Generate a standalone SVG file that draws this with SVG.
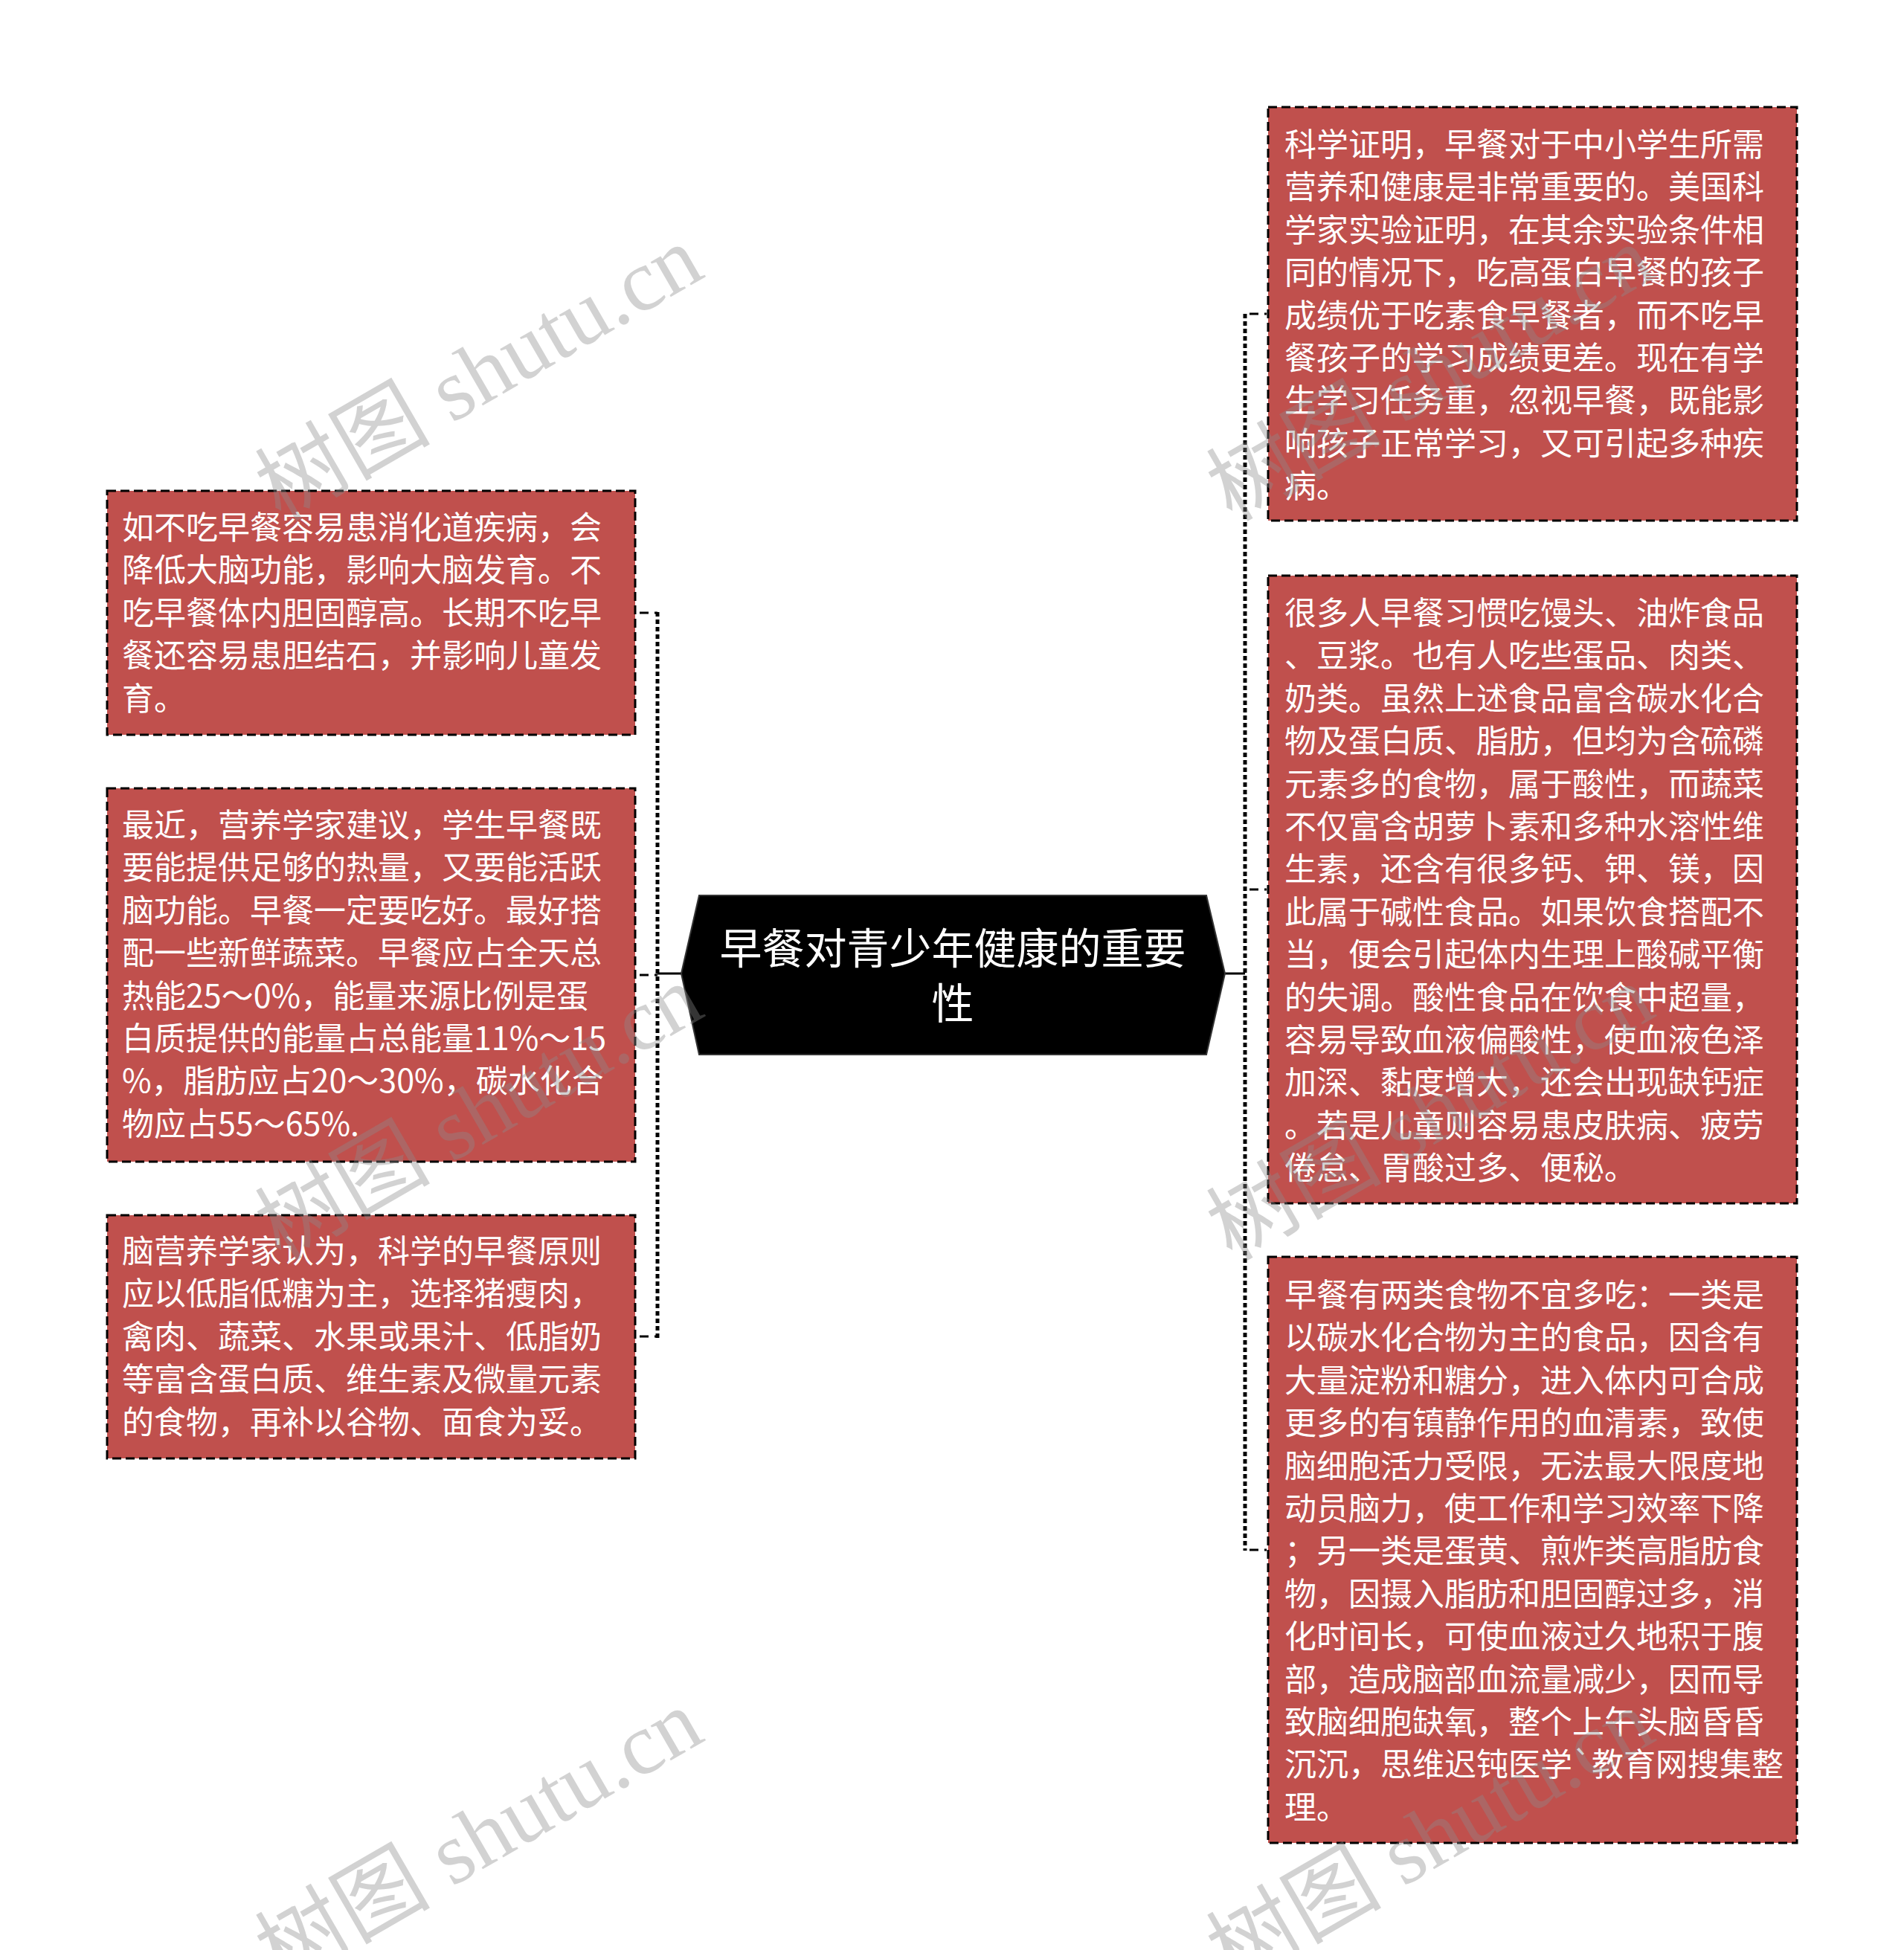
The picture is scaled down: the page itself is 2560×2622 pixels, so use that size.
<svg xmlns="http://www.w3.org/2000/svg" width="2560" height="2622" viewBox="0 0 2560 2622">
<defs>
<style>
.box{fill:#c0504d;stroke:#000;stroke-width:3;stroke-dasharray:12,6;}
.t{font-family:"Noto Sans CJK SC","Microsoft YaHei",sans-serif;font-size:43px;fill:#fff;}
.title{font-family:"Noto Sans CJK SC",sans-serif;font-size:57px;fill:#fff;text-anchor:middle;}
.dot{stroke:#000;stroke-width:5;stroke-dasharray:6,4;fill:none;}
.stub{stroke:#000;stroke-width:3;stroke-dasharray:12,8;fill:none;}
.solid{stroke:#000;stroke-width:3;fill:none;}
.wm{font-family:"Liberation Serif","Noto Sans CJK SC",serif;font-size:118px;fill:#8c8c8c;opacity:0.38;}
</style>
</defs>
<rect width="2560" height="2622" fill="#fff"/>
<g id="connectors">
<line class="dot" x1="884" y1="823" x2="884" y2="1799"/>
<line class="stub" x1="856" y1="824" x2="884" y2="824" stroke-dashoffset="-4"/>
<line class="stub" x1="856" y1="1311" x2="884" y2="1311" stroke-dashoffset="-4"/>
<line class="stub" x1="856" y1="1797" x2="884" y2="1797" stroke-dashoffset="-4"/>
<line class="solid" x1="884" y1="1309" x2="916" y2="1309"/>
<line class="dot" x1="1674" y1="422" x2="1674" y2="2085"/>
<line class="stub" x1="1674" y1="422" x2="1703" y2="422" stroke-dashoffset="-6"/>
<line class="stub" x1="1674" y1="1196" x2="1703" y2="1196" stroke-dashoffset="-6"/>
<line class="stub" x1="1674" y1="2084" x2="1703" y2="2084" stroke-dashoffset="-6"/>
<line class="solid" x1="1647" y1="1309" x2="1674" y2="1309"/>
</g>
<g id="center">
<polygon points="916,1309 940,1204 1622,1204 1647,1309 1622,1418 940,1418" fill="#000" stroke="#333" stroke-width="2"/>
<text class="title"><tspan x="1281" y="1296">早餐对青少年健康的重要</tspan><tspan x="1281" y="1370">性</tspan></text>
</g>
<g id="node-l1">
<rect class="box" x="144" y="660" width="710" height="328"/>
<text class="t"><tspan x="164" y="725">如不吃早餐容易患消化道疾病，会</tspan><tspan x="164" dy="57.4">降低大脑功能，影响大脑发育。不</tspan><tspan x="164" dy="57.4">吃早餐体内胆固醇高。长期不吃早</tspan><tspan x="164" dy="57.4">餐还容易患胆结石，并影响儿童发</tspan><tspan x="164" dy="57.4">育。</tspan></text>
</g>
<g id="node-l2">
<rect class="box" x="144" y="1060" width="710" height="502"/>
<text class="t"><tspan x="164" y="1125">最近，营养学家建议，学生早餐既</tspan><tspan x="164" dy="57.4">要能提供足够的热量，又要能活跃</tspan><tspan x="164" dy="57.4">脑功能。早餐一定要吃好。最好搭</tspan><tspan x="164" dy="57.4">配一些新鲜蔬菜。早餐应占全天总</tspan><tspan x="164" dy="57.4">热能25～0%，能量来源比例是蛋</tspan><tspan x="164" dy="57.4">白质提供的能量占总能量11%～15</tspan><tspan x="164" dy="57.4">%，脂肪应占20～30%，碳水化合</tspan><tspan x="164" dy="57.4">物应占55～65%.</tspan></text>
</g>
<g id="node-l3">
<rect class="box" x="144" y="1634" width="710" height="327"/>
<text class="t"><tspan x="164" y="1698">脑营养学家认为，科学的早餐原则</tspan><tspan x="164" dy="57.4">应以低脂低糖为主，选择猪瘦肉，</tspan><tspan x="164" dy="57.4">禽肉、蔬菜、水果或果汁、低脂奶</tspan><tspan x="164" dy="57.4">等富含蛋白质、维生素及微量元素</tspan><tspan x="164" dy="57.4">的食物，再补以谷物、面食为妥。</tspan></text>
</g>
<g id="node-r1">
<rect class="box" x="1705" y="144" width="711" height="556"/>
<text class="t"><tspan x="1727" y="210">科学证明，早餐对于中小学生所需</tspan><tspan x="1727" dy="57.4">营养和健康是非常重要的。美国科</tspan><tspan x="1727" dy="57.4">学家实验证明，在其余实验条件相</tspan><tspan x="1727" dy="57.4">同的情况下，吃高蛋白早餐的孩子</tspan><tspan x="1727" dy="57.4">成绩优于吃素食早餐者，而不吃早</tspan><tspan x="1727" dy="57.4">餐孩子的学习成绩更差。现在有学</tspan><tspan x="1727" dy="57.4">生学习任务重，忽视早餐，既能影</tspan><tspan x="1727" dy="57.4">响孩子正常学习，又可引起多种疾</tspan><tspan x="1727" dy="57.4">病。</tspan></text>
</g>
<g id="node-r2">
<rect class="box" x="1705" y="774" width="711" height="844"/>
<text class="t"><tspan x="1727" y="840">很多人早餐习惯吃馒头、油炸食品</tspan><tspan x="1727" dy="57.4">、豆浆。也有人吃些蛋品、肉类、</tspan><tspan x="1727" dy="57.4">奶类。虽然上述食品富含碳水化合</tspan><tspan x="1727" dy="57.4">物及蛋白质、脂肪，但均为含硫磷</tspan><tspan x="1727" dy="57.4">元素多的食物，属于酸性，而蔬菜</tspan><tspan x="1727" dy="57.4">不仅富含胡萝卜素和多种水溶性维</tspan><tspan x="1727" dy="57.4">生素，还含有很多钙、钾、镁，因</tspan><tspan x="1727" dy="57.4">此属于碱性食品。如果饮食搭配不</tspan><tspan x="1727" dy="57.4">当，便会引起体内生理上酸碱平衡</tspan><tspan x="1727" dy="57.4">的失调。酸性食品在饮食中超量，</tspan><tspan x="1727" dy="57.4">容易导致血液偏酸性，使血液色泽</tspan><tspan x="1727" dy="57.4">加深、黏度增大，还会出现缺钙症</tspan><tspan x="1727" dy="57.4">。若是儿童则容易患皮肤病、疲劳</tspan><tspan x="1727" dy="57.4">倦怠、胃酸过多、便秘。</tspan></text>
</g>
<g id="node-r3">
<rect class="box" x="1705" y="1690" width="711" height="788"/>
<text class="t"><tspan x="1727" y="1757">早餐有两类食物不宜多吃：一类是</tspan><tspan x="1727" dy="57.4">以碳水化合物为主的食品，因含有</tspan><tspan x="1727" dy="57.4">大量淀粉和糖分，进入体内可合成</tspan><tspan x="1727" dy="57.4">更多的有镇静作用的血清素，致使</tspan><tspan x="1727" dy="57.4">脑细胞活力受限，无法最大限度地</tspan><tspan x="1727" dy="57.4">动员脑力，使工作和学习效率下降</tspan><tspan x="1727" dy="57.4">；另一类是蛋黄、煎炸类高脂肪食</tspan><tspan x="1727" dy="57.4">物，因摄入脂肪和胆固醇过多，消</tspan><tspan x="1727" dy="57.4">化时间长，可使血液过久地积于腹</tspan><tspan x="1727" dy="57.4">部，造成脑部血流量减少，因而导</tspan><tspan x="1727" dy="57.4">致脑细胞缺氧，整个上午头脑昏昏</tspan><tspan x="1727" dy="57.4">沉沉，思维迟钝医学`教育网搜集整</tspan><tspan x="1727" dy="57.4">理。</tspan></text>
</g>
<g id="watermarks">
<text class="wm" transform="translate(644,502) rotate(-30)" text-anchor="middle" dy="40">树图 shutu.cn</text>
<text class="wm" transform="translate(644,1496) rotate(-30)" text-anchor="middle" dy="40">树图 shutu.cn</text>
<text class="wm" transform="translate(644,2470) rotate(-30)" text-anchor="middle" dy="40">树图 shutu.cn</text>
<text class="wm" transform="translate(1923,502) rotate(-30)" text-anchor="middle" dy="40">树图 shutu.cn</text>
<text class="wm" transform="translate(1923,1496) rotate(-30)" text-anchor="middle" dy="40">树图 shutu.cn</text>
<text class="wm" transform="translate(1923,2470) rotate(-30)" text-anchor="middle" dy="40">树图 shutu.cn</text>
</g>
</svg>
